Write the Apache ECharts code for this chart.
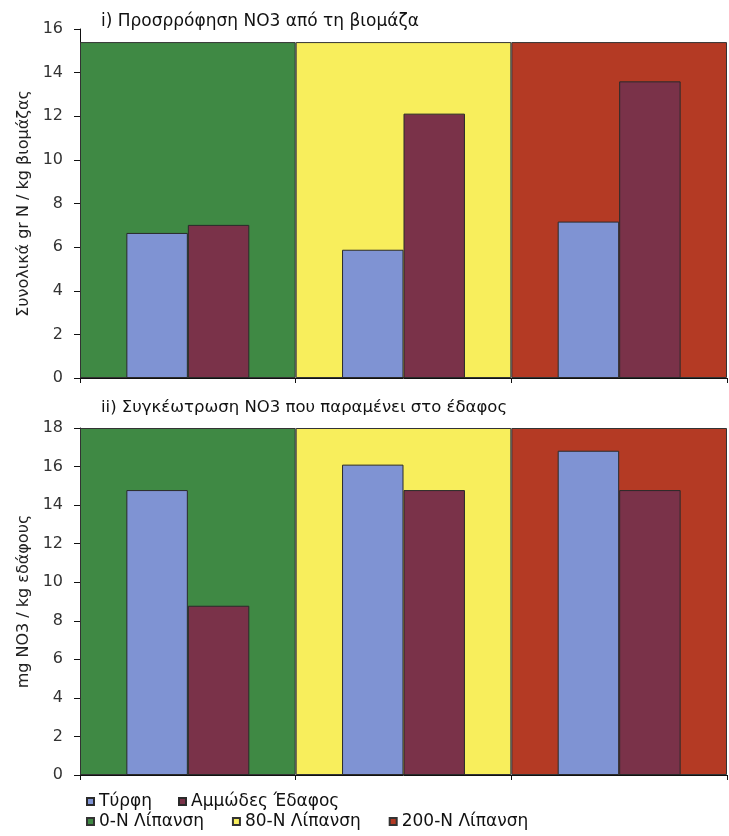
<!DOCTYPE html>
<html>
<head>
<meta charset="utf-8">
<script src="https://cdn.jsdelivr.net/npm/echarts@6/dist/echarts.min.js"></script>
<style>
  html, body { margin: 0; padding: 0; background: #fff; }
  #chart { width: 729px; height: 836px; }
</style>
</head>
<body>
<div id="chart"></div>
<script>
// Fertilisation levels (one coloured band per level)
const levels = ['0-Ν Λίπανση', '80-Ν Λίπανση', '200-Ν Λίπανση'];
const soils = ['Τύρφη', 'Αμμώδες Έδαφος'];

// i) NO3 uptake by biomass (gr N / kg biomass)
const uptakePeat = [6.65, 5.88, 7.17];
const uptakeSand = [7.02, 12.12, 13.6];

// ii) NO3 remaining in soil (mg NO3 / kg soil)
const soilPeat = [14.78, 16.1, 16.82];
const soilSand = [8.78, 14.78, 14.78];

// y-axis tick labels
const ticksTop = [0, 2, 4, 6, 8, 10, 12, 14, 16];
const ticksBottom = [0, 2, 4, 6, 8, 10, 12, 14, 16, 18];

const FONT = 'DejaVu Sans';
const bandColors = ['#3f8944', '#f8ee5c', '#b43a24'];
const soilColors = ['#7f93d3', '#7a3249'];
// height of the coloured plot frame in each panel (axis units)
const frameTop = [15.4, 18];

const chart = echarts.init(document.getElementById('chart'));

function valueAxis(gridIndex, ticks, name) {
  return {
    type: 'value',
    gridIndex,
    min: ticks[0],
    max: ticks[ticks.length - 1],
    interval: ticks[1] - ticks[0],
    name,
    nameLocation: 'middle',
    nameRotate: 90,
    nameGap: 46,
    nameTextStyle: { fontFamily: FONT, fontSize: 16, color: '#222' },
    axisLine: { show: true, lineStyle: { color: '#111', width: 1 } },
    axisTick: { show: true, length: 6, lineStyle: { color: '#111' } },
    axisLabel: { fontFamily: FONT, fontSize: 16, color: '#333', margin: 17 },
    splitLine: { show: false }
  };
}

function catAxis(gridIndex, visible) {
  return {
    type: 'category',
    gridIndex,
    data: levels,
    boundaryGap: true,
    show: visible,
    axisLine: { show: visible, lineStyle: { color: '#111', width: 1 } },
    axisTick: { show: visible, length: 5, lineStyle: { color: '#111' } },
    axisLabel: { show: false },
    splitLine: { show: false }
  };
}

// coloured frame bands, one series per fertilisation level
function bandSeries(gridIdx) {
  return levels.map((lv, i) => ({
    name: lv,
    type: 'bar',
    xAxisIndex: gridIdx * 2 + 1,
    yAxisIndex: gridIdx,
    data: levels.map((_, j) => (j === i ? frameTop[gridIdx] : '-')),
    barWidth: '100%',
    barGap: '-100%',
    silent: true,
    z: 1,
    itemStyle: { color: bandColors[i], borderColor: '#333', borderWidth: 1 }
  }));
}

function soilSeries(gridIdx, values) {
  return soils.map((s, i) => ({
    name: s,
    type: 'bar',
    xAxisIndex: gridIdx * 2,
    yAxisIndex: gridIdx,
    data: values[i],
    barGap: '0%',
    barCategoryGap: '43%',
    z: 3,
    itemStyle: { color: soilColors[i], borderColor: '#2a2a2a', borderWidth: 1 }
  }));
}

chart.setOption({
  animation: false,
  backgroundColor: '#fff',
  title: [
    {
      text: 'i) Προσρρόφηση ΝΟ3 από τη βιομάζα',
      left: 96, top: 8,
      textStyle: { fontFamily: FONT, fontSize: 17, fontWeight: 'normal', color: '#111' }
    },
    {
      text: 'ii) Συγκέωτρωση ΝΟ3 που παραμένει στο έδαφος',
      left: 96, top: 394,
      textStyle: { fontFamily: FONT, fontSize: 16.5, fontWeight: 'normal', color: '#111' }
    }
  ],
  legend: [
    {
      data: soils,
      left: 81, top: 788,
      itemWidth: 7, itemHeight: 7, itemGap: 26,
      icon: 'rect',
      textStyle: { fontFamily: FONT, fontSize: 17, color: '#111' }
    },
    {
      data: levels,
      left: 81, top: 808,
      itemWidth: 7, itemHeight: 7, itemGap: 28,
      icon: 'rect',
      textStyle: { fontFamily: FONT, fontSize: 17, color: '#111' }
    }
  ],
  grid: [
    { left: 80, right: 2, top: 29, height: 349 },
    { left: 80, right: 2, top: 428, height: 347 }
  ],
  xAxis: [catAxis(0, true), catAxis(0, false), catAxis(1, true), catAxis(1, false)],
  yAxis: [
    valueAxis(0, ticksTop, 'Συνολικά gr N / kg βιομάζας'),
    valueAxis(1, ticksBottom, 'mg NO3 / kg εδάφους')
  ],
  series: [
    ...bandSeries(0),
    ...soilSeries(0, [uptakePeat, uptakeSand]),
    ...bandSeries(1),
    ...soilSeries(1, [soilPeat, soilSand])
  ]
});
</script>
</body>
</html>
